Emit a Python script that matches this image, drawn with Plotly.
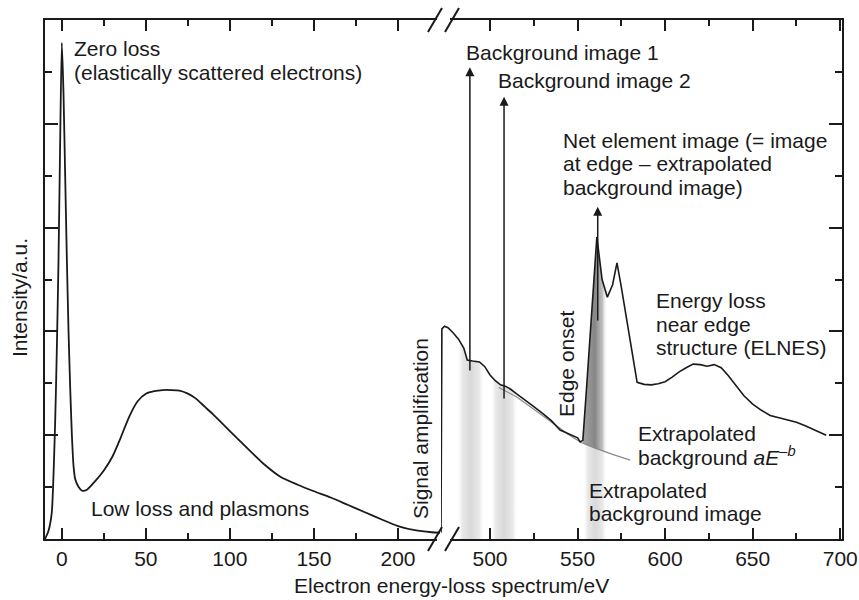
import numpy as np
import plotly.graph_objects as go

# ---------------- data ----------------
# low-loss part of the spectrum (left panel)
E_low = [-10, -8, -6, -4, -3, -2, -1, 0, 1, 2, 3, 4, 5, 6, 7, 8, 10, 12, 15, 20,
         25, 30, 35, 40, 45, 50, 55, 60, 65, 70, 75, 80, 85, 90, 100, 110, 120,
         130, 140, 150, 160, 170, 180, 190, 200, 210, 220, 225]
I_low = [0.0, 0.15, 0.5, 2.2, 3.6, 5.3, 7.6, 9.56, 8.6, 7.0, 5.4, 4.0, 2.9, 2.0,
         1.4, 1.15, 1.0, 0.93, 0.95, 1.12, 1.32, 1.58, 1.95, 2.35, 2.65, 2.8,
         2.85, 2.87, 2.87, 2.86, 2.8, 2.7, 2.55, 2.4, 2.08, 1.76, 1.45, 1.2,
         1.05, 0.92, 0.8, 0.66, 0.52, 0.38, 0.25, 0.17, 0.13, 0.12]

# core-loss part after signal amplification (right panel)
E_core = [472, 472.5, 474, 476, 479, 482, 485, 487, 490, 494, 497, 500, 503, 506,
          509, 512, 515, 520, 525, 530, 535, 540, 545, 548, 550, 551.5, 553, 555,
          558, 561, 564, 567, 570, 572.5, 575, 578, 581, 584, 588, 592, 596, 600,
          604, 608, 612, 616, 620, 624, 628, 632, 636, 640, 645, 650, 655, 660,
          665, 670, 675, 680, 685, 690, 692]
I_core = [0.12, 4.05, 4.1, 4.07, 3.97, 3.85, 3.68, 3.45, 3.43, 3.41, 3.32, 3.16,
          3.05, 2.97, 2.94, 2.88, 2.8, 2.68, 2.55, 2.42, 2.28, 2.1, 2.02, 1.98,
          1.95, 1.87, 1.9, 2.85, 4.3, 5.82, 5.0, 4.66, 4.9, 5.32, 4.85, 4.25,
          3.6, 3.02, 2.98, 2.97, 2.99, 3.03, 3.12, 3.22, 3.3, 3.37, 3.36, 3.33,
          3.36, 3.3, 3.15, 2.98, 2.76, 2.6, 2.48, 2.38, 2.34, 2.3, 2.25, 2.18,
          2.1, 2.02, 2.0]

# extrapolated power-law background aE^-b
E_bg = [505, 515, 525, 535, 545, 552, 560, 570, 580]
I_bg = [2.92, 2.74, 2.5, 2.25, 2.01, 1.86, 1.75, 1.63, 1.52]

# energy windows of the three images
window_bg1 = [481, 497]
window_bg2 = [500, 516]
window_edge = [553, 567]

# arrows: energy, tail intensity, head intensity
arrow_E = [488.5, 508, 561.5]
arrow_tail = [3.22, 2.68, 4.18]
arrow_head = [9.09, 8.52, 6.4]

low_ticks = [0, 50, 100, 150, 200]
low_minor = [25, 75, 125, 175]
core_ticks = [500, 550, 600, 650, 700]
core_minor = [525, 575, 625, 675]
y_major = [0, 2, 4, 6, 8, 10]
y_minor = [1, 3, 5, 7, 9]

# ---------------- figure ----------------
W, H = 859, 600
L, R, T, B = 45, 17, 20, 61
PW, PH = W - L - R, H - T - B
def PX(x):
    return (x - L) / PW
def PY(y):
    return (H - B - y) / PH

SPLIT = PX(441)
FONT = "Liberation Sans, Arial, Helvetica, sans-serif"
INK = "#1a1a1a"

def segment(E, I, lo, hi):
    E = np.asarray(E, float); I = np.asarray(I, float)
    m = (E > lo) & (E < hi)
    xs = np.concatenate([[lo], E[m], [hi]])
    ys = np.concatenate([[np.interp(lo, E, I)], I[m], [np.interp(hi, E, I)]])
    return xs, ys

fig = go.Figure()

light_scale = [[0, "rgba(255,255,255,0)"], [0.2, "rgba(222,222,222,0.7)"],
               [0.5, "rgba(210,210,210,0.85)"], [0.8, "rgba(222,222,222,0.7)"],
               [1, "rgba(255,255,255,0)"]]
dark_scale = [[0, "rgba(140,140,140,0.8)"], [0.5, "rgba(120,120,120,0.9)"],
              [0.8, "rgba(165,165,165,0.7)"], [1, "rgba(255,255,255,0)"]]

for w in (window_bg1, window_bg2):
    xs, ys = segment(E_core, I_core, w[0], w[1])
    fig.add_trace(go.Scatter(
        x=list(xs) + [w[1], w[0]], y=list(ys) + [0, 0], xaxis="x2", yaxis="y2",
        mode="none", fill="toself",
        fillgradient=dict(type="horizontal", colorscale=light_scale,
                          start=w[0], stop=w[1]),
        hoverinfo="skip", showlegend=False))

# edge window: below background (light) and net signal (dark)
bx, by = segment(E_bg, I_bg, window_edge[0], window_edge[1])
fig.add_trace(go.Scatter(
    x=list(bx) + [window_edge[1], window_edge[0]], y=list(by) + [0, 0],
    xaxis="x2", yaxis="y2", mode="none", fill="toself",
    fillgradient=dict(type="horizontal", colorscale=light_scale,
                      start=window_edge[0], stop=window_edge[1]),
    hoverinfo="skip", showlegend=False))
cx, cy = segment(E_core, I_core, window_edge[0], window_edge[1])
fig.add_trace(go.Scatter(
    x=list(cx) + list(bx[::-1]), y=list(cy) + list(by[::-1]),
    xaxis="x2", yaxis="y2", mode="none", fill="toself",
    fillgradient=dict(type="horizontal", colorscale=dark_scale,
                      start=window_edge[0], stop=window_edge[1]),
    hoverinfo="skip", showlegend=False))

# background extrapolation
fig.add_trace(go.Scatter(x=E_bg, y=I_bg, xaxis="x2", yaxis="y2", mode="lines",
                         line=dict(color="#8a8a8a", width=1.2),
                         hoverinfo="skip", showlegend=False))
# spectra
fig.add_trace(go.Scatter(x=E_low, y=I_low, mode="lines",
                         line=dict(color=INK, width=1.8, shape="spline", smoothing=0.6),
                         hoverinfo="skip", showlegend=False))
fig.add_trace(go.Scatter(x=E_core, y=I_core, xaxis="x2", yaxis="y2", mode="lines",
                         line=dict(color=INK, width=1.6),
                         hoverinfo="skip", showlegend=False))

axis_common = dict(showline=True, linecolor=INK, linewidth=2, ticks="inside",
                   tickcolor=INK, tickwidth=1.6, showgrid=False, zeroline=False,
                   automargin=False,
                   tickfont=dict(family=FONT, size=21, color=INK))

fig.update_layout(
    width=W, height=H, margin=dict(l=L, r=R, t=T, b=B, autoexpand=False),
    paper_bgcolor="white", plot_bgcolor="white",
    xaxis=dict(domain=[0, SPLIT], range=[-10, 225.6], anchor="y", mirror="ticks",
               tickmode="array", tickvals=low_ticks, ticklen=11,
               minor=dict(tickmode="array", tickvals=low_minor, ticks="inside",
                          ticklen=6, tickwidth=1.6, tickcolor=INK),
               **axis_common),
    xaxis2=dict(domain=[SPLIT, 1], range=[472, 701], anchor="y2", mirror="ticks",
                tickmode="array", tickvals=core_ticks, ticklen=11,
                minor=dict(tickmode="array", tickvals=core_minor, ticks="inside",
                           ticklen=6, tickwidth=1.6, tickcolor=INK),
                **axis_common),
    yaxis=dict(domain=[0, 1], range=[0, 10], anchor="x", showticklabels=False,
               tickmode="array", tickvals=y_major, ticklen=13,
               minor=dict(tickmode="array", tickvals=y_minor, ticks="inside",
                          ticklen=7, tickwidth=1.6, tickcolor=INK),
               **axis_common),
    yaxis2=dict(domain=[0, 1], range=[0, 10], anchor="x2", side="right",
                showticklabels=False, tickmode="array", tickvals=y_major, ticklen=13,
                minor=dict(tickmode="array", tickvals=y_minor, ticks="inside",
                           ticklen=7, tickwidth=1.6, tickcolor=INK),
                **axis_common),
)

# arrows
for e, t0, t1 in zip(arrow_E, arrow_tail, arrow_head):
    fig.add_annotation(x=e, y=t1, ax=e, ay=t0, xref="x2", yref="y2",
                       axref="x2", ayref="y2", text="", showarrow=True,
                       arrowhead=2, arrowsize=1.2, arrowwidth=1.5,
                       arrowcolor=INK, standoff=0, startstandoff=0)

# axis break marks
shapes = []
for yb in (539, 20):
    shapes.append(dict(type="rect", xref="paper", yref="paper",
                       x0=PX(437), x1=PX(450), y0=PY(yb + 3), y1=PY(yb - 3),
                       fillcolor="white", line=dict(width=0), layer="above"))
    for xo in (428, 445):
        shapes.append(dict(type="line", xref="paper", yref="paper",
                           x0=PX(xo), y0=PY(yb + 12), x1=PX(xo + 14), y1=PY(yb - 12),
                           line=dict(color=INK, width=2), layer="above"))
fig.update_layout(shapes=shapes)

def label(text, x, y, anchor="left", angle=0):
    fig.add_annotation(text=text, x=PX(x), y=PY(y), xref="paper", yref="paper",
                       xanchor=anchor, yanchor="middle", showarrow=False,
                       textangle=angle, font=dict(family=FONT, size=21, color=INK))

label("Zero loss", 72, 48)
label("(elastically scattered electrons)", 72, 72)
label("Low loss and plasmons", 89, 508)
label("Background image 1", 464, 52)
label("Background image 2", 496, 80)
label("Net element image (= image", 561, 140)
label("at edge – extrapolated", 561, 164)
label("background image)", 561, 187)
label("Energy loss", 654, 300)
label("near edge", 654, 324)
label("structure (ELNES)", 654, 347)
label("Extrapolated", 636, 433)
label("background <i>aE</i><sup>–<i>b</i></sup>", 636, 456)
label("Extrapolated", 587, 490)
label("background image", 587, 513)
label("Signal amplification", 420, 429, anchor="center", angle=-90)
label("Edge onset", 566, 364, anchor="center", angle=-90)
label("Electron energy-loss spectrum/eV", 451, 585, anchor="center")
label("Intensity/a.u.", 19, 298, anchor="center", angle=-90)

fig.write_html("out.html")
